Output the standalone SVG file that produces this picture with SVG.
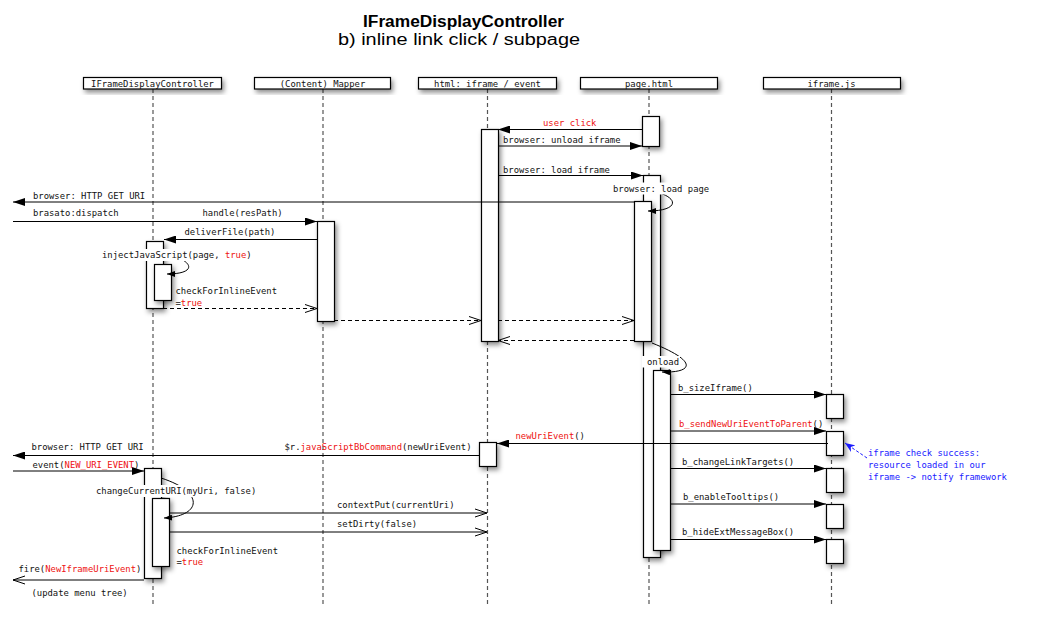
<svg xmlns="http://www.w3.org/2000/svg" width="1039" height="617" viewBox="0 0 1039 617">
<style>
.t{font-family:"DejaVu Sans Mono","Liberation Mono",monospace;font-size:8.9px;fill:#111}
.r{fill:#ee1111}
.b{fill:#1a1aff}
.title{font-family:"Liberation Sans","DejaVu Sans",sans-serif;font-size:16px;fill:#000}
.hdr{fill:#fff;stroke:#000;stroke-width:1.2}
.bar{fill:#fff;stroke:#000;stroke-width:1.2}
.life{stroke:#555;stroke-width:1.2;stroke-dasharray:4 3;fill:none}
.m{stroke:#000;stroke-width:1;fill:none}
.d{stroke:#000;stroke-width:1;fill:none;stroke-dasharray:4 3}
.lbg{fill:#fff}
</style>
<defs>
<filter id="sh" x="-50%" y="-50%" width="200%" height="200%">
<feDropShadow dx="2" dy="3" stdDeviation="2.5" flood-color="#000" flood-opacity="0.45"/>
</filter>
<marker id="fa" markerUnits="userSpaceOnUse" viewBox="0 0 12 8" refX="12" refY="4" markerWidth="12" markerHeight="8" orient="auto">
<path d="M0,0 L12,4 L0,8 z" fill="#000"/>
</marker>
<marker id="oa" markerUnits="userSpaceOnUse" viewBox="-1 -1 14 10" refX="12" refY="4" markerWidth="14" markerHeight="10" orient="auto">
<path d="M0,0 L12,4 L0,8" fill="none" stroke="#000" stroke-width="1"/>
</marker>
<marker id="sa" markerUnits="userSpaceOnUse" viewBox="0 0 8 6" refX="8" refY="3" markerWidth="8" markerHeight="6" orient="auto">
<path d="M0,0 L8,3 L0,6 z" fill="#000"/>
</marker>
<marker id="ba" markerUnits="userSpaceOnUse" viewBox="0 0 10 8" refX="10" refY="4" markerWidth="10" markerHeight="8" orient="auto">
<path d="M0,0 L10,4 L0,8 L3,4 z" fill="#1a1aff"/>
</marker>
</defs>
<rect width="1039" height="617" fill="#fff"/>

<g id="title">
<text class="title" x="463.5" y="26.5" text-anchor="middle" font-weight="bold" textLength="201" lengthAdjust="spacingAndGlyphs">IFrameDisplayController</text>
<text class="title" x="459" y="44.5" text-anchor="middle" textLength="242" lengthAdjust="spacingAndGlyphs">b) inline link click / subpage</text>
</g>

<g id="lifelines">
<line class="life" x1="153" y1="89" x2="153" y2="606"/>
<line class="life" x1="323" y1="89" x2="323" y2="606"/>
<line class="life" x1="487.5" y1="89" x2="487.5" y2="606"/>
<line class="life" x1="649" y1="89" x2="649" y2="606"/>
<line class="life" x1="831.5" y1="89" x2="831.5" y2="606"/>
</g>

<g id="node-ifdc">
<rect class="hdr" x="83.5" y="77.5" width="138" height="11.5" filter="url(#sh)"/>
<text class="t" x="152.5" y="86.5" text-anchor="middle">IFrameDisplayController</text>
<rect class="bar" x="146.5" y="241.5" width="17" height="67" filter="url(#sh)"/>
<rect class="bar" x="154.5" y="264.5" width="17" height="36" filter="url(#sh)"/>
<rect class="bar" x="144.5" y="468.5" width="17" height="110" filter="url(#sh)"/>
<rect class="bar" x="152.5" y="498.5" width="17" height="68" filter="url(#sh)"/>
</g>

<g id="node-mapper">
<rect class="hdr" x="254.5" y="77.5" width="136" height="11.5" filter="url(#sh)"/>
<text class="t" x="322.5" y="86.5" text-anchor="middle">(Content) Mapper</text>
<rect class="bar" x="317.5" y="221.5" width="17" height="100" filter="url(#sh)"/>
</g>

<g id="node-html">
<rect class="hdr" x="418.5" y="77.5" width="138" height="11.5" filter="url(#sh)"/>
<text class="t" x="487.5" y="86.5" text-anchor="middle">html: iframe / event</text>
<rect class="bar" x="481.5" y="129.5" width="17" height="212" filter="url(#sh)"/>
<rect class="bar" x="479.5" y="442.5" width="17" height="24" filter="url(#sh)"/>
</g>

<g id="node-page">
<rect class="hdr" x="580.5" y="77.5" width="137" height="11.5" filter="url(#sh)"/>
<text class="t" x="649" y="86.5" text-anchor="middle">page.html</text>
<rect class="bar" x="642.5" y="116.5" width="17" height="30" filter="url(#sh)"/>
<rect class="bar" x="643.5" y="175.5" width="17" height="382" filter="url(#sh)"/>
<rect class="bar" x="634.5" y="201.5" width="17" height="140" filter="url(#sh)"/>
<rect class="bar" x="653.5" y="370.5" width="17" height="180" filter="url(#sh)"/>
</g>

<g id="node-iframejs">
<rect class="hdr" x="763.5" y="77.5" width="137" height="11.5" filter="url(#sh)"/>
<text class="t" x="831.5" y="86.5" text-anchor="middle">iframe.js</text>
<rect class="bar" x="826.5" y="394.5" width="17" height="24" filter="url(#sh)"/>
<rect class="bar" x="826.5" y="431.5" width="17" height="24" filter="url(#sh)"/>
<rect class="bar" x="826.5" y="468.5" width="17" height="24" filter="url(#sh)"/>
<rect class="bar" x="826.5" y="504.5" width="17" height="24" filter="url(#sh)"/>
<rect class="bar" x="826.5" y="539.5" width="17" height="24" filter="url(#sh)"/>
</g>

<g id="connectors">
<line class="m" x1="642" y1="129.5" x2="498" y2="129.5" marker-end="url(#fa)"/>
<line class="m" x1="498" y1="146" x2="642" y2="146" marker-end="url(#fa)"/>
<line class="m" x1="498" y1="175.5" x2="643" y2="175.5" marker-end="url(#fa)"/>
<path class="m" d="M660,193 C680,200 676,211 648,211" marker-end="url(#sa)"/>
<line class="m" x1="634" y1="202" x2="13" y2="202" marker-end="url(#fa)"/>
<line class="m" x1="13" y1="221.5" x2="317" y2="221.5" marker-end="url(#fa)"/>
<line class="m" x1="317" y1="239.5" x2="164" y2="239.5" marker-end="url(#fa)"/>
<path class="m" d="M163,253 C195,260 198,274 167,274" marker-end="url(#sa)"/>
<line class="d" x1="163" y1="308.5" x2="317" y2="308.5" marker-end="url(#oa)"/>
<line class="d" x1="334" y1="320.5" x2="481" y2="320.5" marker-end="url(#oa)"/>
<line class="d" x1="498" y1="320.5" x2="634" y2="320.5" marker-end="url(#oa)"/>
<line class="d" x1="634" y1="340.5" x2="498" y2="340.5" marker-end="url(#oa)"/>
<path class="m" d="M652,343 C700,362 692,373 662,372" marker-end="url(#sa)"/>
<line class="m" x1="670" y1="394.5" x2="826" y2="394.5" marker-end="url(#fa)"/>
<line class="m" x1="670" y1="431" x2="826" y2="431" marker-end="url(#fa)"/>
<line class="m" x1="828" y1="443.5" x2="497" y2="443.5" marker-end="url(#fa)"/>
<line class="m" x1="479" y1="455.5" x2="13" y2="455.5" marker-end="url(#fa)"/>
<line class="m" x1="670" y1="468.5" x2="826" y2="468.5" marker-end="url(#fa)"/>
<line class="m" x1="13" y1="471" x2="144" y2="471" marker-end="url(#fa)"/>
<path class="m" d="M161,478 C205,492 202,516 164,518" marker-end="url(#sa)"/>
<line class="m" x1="670" y1="504" x2="826" y2="504" marker-end="url(#fa)"/>
<line class="m" x1="170" y1="513" x2="487" y2="513" marker-end="url(#oa)"/>
<line class="m" x1="170" y1="532" x2="487" y2="532" marker-end="url(#oa)"/>
<line class="m" x1="670" y1="539.5" x2="826" y2="539.5" marker-end="url(#fa)"/>
<line class="m" x1="144" y1="580" x2="13" y2="580" marker-end="url(#oa)"/>
<line x1="867" y1="458" x2="845" y2="443" stroke="#1a1aff" stroke-width="1" stroke-dasharray="3 2" marker-end="url(#ba)"/>
</g>

<g id="labels">
<text class="t" x="543" y="126"><tspan class="r">user click</tspan></text>
<text class="t" x="503" y="143">browser: unload iframe</text>
<text class="t" x="503" y="173">browser: load iframe</text>
<rect class="lbg" x="611" y="182.5" width="99" height="12"/>
<text class="t" x="613" y="191.5">browser: load page</text>
<text class="t" x="33" y="198.5">browser: HTTP GET URI</text>
<text class="t" x="33" y="215.5">brasato:dispatch</text>
<text class="t" x="202.5" y="215.5">handle(resPath)</text>
<text class="t" x="184.5" y="235">deliverFile(path)</text>
<rect class="lbg" x="100" y="249" width="153" height="12"/>
<text class="t" x="102" y="258">injectJavaScript(page, <tspan class="r">true</tspan>)</text>
<text class="t" x="175.5" y="294">checkForInlineEvent</text>
<text class="t" x="175.5" y="305.5">=<tspan class="r">true</tspan></text>
<rect class="lbg" x="642" y="356" width="38" height="11.5"/>
<text class="t" x="647" y="364.5">onload</text>
<text class="t" x="678" y="390.5">b_sizeIframe()</text>
<text class="t" x="679" y="426.5"><tspan class="r">b_sendNewUriEventToParent</tspan>()</text>
<text class="t" x="515.5" y="439"><tspan class="r">newUriEvent</tspan>()</text>
<text class="t" x="471.5" y="450.3" text-anchor="end">$r.<tspan class="r">javaScriptBbCommand</tspan>(newUriEvent)</text>
<text class="t" x="31.5" y="449.5">browser: HTTP GET URI</text>
<text class="t" x="682" y="464.5">b_changeLinkTargets()</text>
<text class="t" x="32.5" y="467.5">event(<tspan class="r">NEW_URI_EVENT</tspan>)</text>
<rect class="lbg" x="94" y="485" width="164" height="12"/>
<text class="t" x="96" y="494">changeCurrentURI(myUri, false)</text>
<text class="t" x="683" y="499.5">b_enableTooltips()</text>
<text class="t" x="337" y="508">contextPut(currentUri)</text>
<text class="t" x="337" y="526.5">setDirty(false)</text>
<text class="t" x="682" y="534.5">b_hideExtMessageBox()</text>
<text class="t" x="176.5" y="553.5">checkForInlineEvent</text>
<text class="t" x="176.5" y="565">=<tspan class="r">true</tspan></text>
<text class="t" x="18.5" y="571.5">fire(<tspan class="r">NewIframeUriEvent</tspan>)</text>
<text class="t" x="31.5" y="596">(update menu tree)</text>
<text class="t b" x="868" y="455.5">iframe check success:</text>
<text class="t b" x="868" y="467.5">resource loaded in our</text>
<text class="t b" x="868" y="479.5">iframe -&gt; notify framework</text>
</g>
</svg>
